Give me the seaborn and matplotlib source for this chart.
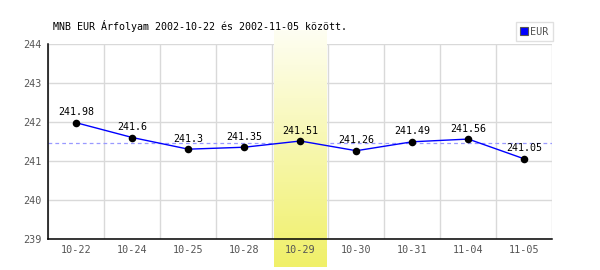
import numpy as np
import pandas as pd
import matplotlib
matplotlib.use("Agg")
import matplotlib.pyplot as plt
import seaborn as sns
from matplotlib.lines import Line2D

dates = ["10-22", "10-24", "10-25", "10-28", "10-29", "10-30", "10-31", "11-04", "11-05"]
values = [241.98, 241.6, 241.3, 241.35, 241.51, 241.26, 241.49, 241.56, 241.05]
highlight = "10-29"
title = "MNB EUR Árfolyam 2002-10-22 és 2002-11-05 között."
series_name = "EUR"
y_min, y_max = 239, 244

sns.set_style("white")
plt.rcParams['font.family'] = ['DejaVu Sans Mono', 'DejaVu Sans']

df = pd.DataFrame({"pos": np.arange(len(dates)), "date": dates, "value": values})

fig = plt.figure(figsize=(6, 2.7), dpi=100)
ax = fig.add_axes([48.3 / 600, (270 - 238.5) / 270, 504 / 600, (238.5 - 44.3) / 270])
ax.set_facecolor("none")
ax.set_axisbelow("line")

n = len(dates)
# manual grid (below the highlight band)
for yv in range(y_min, y_max + 1):
    ax.axhline(yv, color="#d9d9d9", lw=1, zorder=0.5)
for xv in np.arange(n + 1) - 0.5:
    ax.axvline(xv, color="#d9d9d9", lw=1, zorder=0.5)

# mean line (under the band)
mean_v = float(np.mean(values))
ax.axhline(mean_v, color="#9999ff", lw=0.9, ls=(0, (3, 2.5)), zorder=0.8)

# highlight band with vertical gradient
hi = dates.index(highlight)
px_per_unit = (238.5 - 44.3) / (y_max - y_min)
band_bottom = y_min - (267 - 238.5) / px_per_unit
band_top = y_max + (44.3 - 30.5) / px_per_unit
top_c = np.array([254, 254, 242]) / 255
bot_c = np.array([240, 240, 105]) / 255
t = np.linspace(0, 1, 100)[:, None]
grad = (top_c[None, :] * (1 - t) + bot_c[None, :] * t)[:, None, :]
ax.imshow(grad, extent=(hi - 0.5 + 0.03, hi + 0.5 - 0.03, band_bottom, band_top),
          aspect="auto", origin="upper", zorder=1, clip_on=False, interpolation="bilinear")

sns.lineplot(data=df, x="pos", y="value", ax=ax, color="#0000ff", lw=1.0, zorder=2)
sns.scatterplot(data=df, x="pos", y="value", ax=ax, color="black", s=30,
                edgecolor="black", linewidth=0, zorder=3)

for x, v in zip(df["pos"], values):
    ax.annotate(f"{v:g}", (x, v), xytext=(0, 7.5), textcoords="offset points",
                ha="center", va="center", fontsize=7.2, color="black", zorder=4)

ax.set_xlim(-0.5, n - 0.5)
ax.set_ylim(y_min, y_max)
ax.set_xticks(np.arange(n))
ax.set_xticklabels(dates)
ax.set_yticks(np.arange(y_min, y_max + 1))
ax.grid(False)
ax.tick_params(axis="both", which="both", length=0, labelsize=7.3, labelcolor="#555555")
ax.tick_params(axis="x", pad=5)
ax.tick_params(axis="y", pad=5)
ax.set_xlabel("")
ax.set_ylabel("")
for s in ["top", "right"]:
    ax.spines[s].set_visible(False)
for s in ["left", "bottom"]:
    ax.spines[s].set_color("black")
    ax.spines[s].set_linewidth(1.1)
    ax.spines[s].set_zorder(2.5)

fig.text(53 / 600, 1 - 25.7 / 270, title, fontsize=7.2, color="black", va="center", ha="left")

handle = Line2D([], [], marker="s", color="none", markerfacecolor="#0000ff",
                markeredgecolor="#555555", markersize=5.5, markeredgewidth=0.8)
leg = fig.legend([handle], [series_name], loc="upper right",
                 bbox_to_anchor=(553 / 600, 1 - 22 / 270), frameon=True, fancybox=False,
                 fontsize=7.3, handlelength=0.6, handletextpad=0.3, borderpad=0.45,
                 borderaxespad=0)
leg.get_frame().set_edgecolor("#d9d9d9")
leg.get_frame().set_linewidth(1)
for txt in leg.get_texts():
    txt.set_color("#555555")

fig.savefig("out.png", dpi=100)
